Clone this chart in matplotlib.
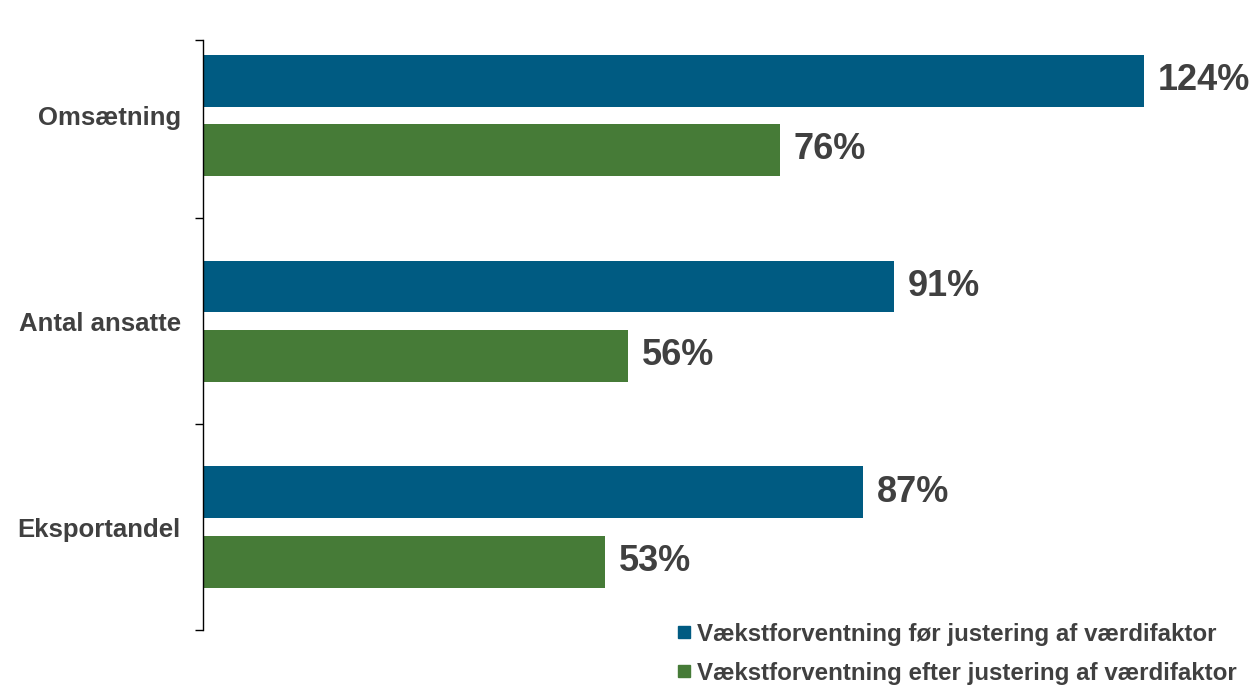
import matplotlib.pyplot as plt
from matplotlib.lines import Line2D
import numpy as np

plt.rcParams['font.family'] = ['Liberation Sans', 'DejaVu Sans']
plt.rcParams['font.weight'] = 'bold'

# data
categories = ['Omsætning', 'Antal ansatte', 'Eksportandel']
before = [124, 91, 87]
after = [76, 56, 53]
series_names = ['Vækstforventning før justering af værdifaktor',
                'Vækstforventning efter justering af værdifaktor']

blue = '#005b82'
green = '#467b37'
txt = '#404040'

fig = plt.figure(figsize=(12.55, 6.85), dpi=100)
ax = fig.add_axes([203 / 1255, 1 - 630 / 685, 1 - 203 / 1255, 590 / 685])

y = np.arange(len(categories))
h = 0.252
off = 0.168
b1 = ax.barh(y - off, before, height=h, color=blue)
b2 = ax.barh(y + off, after, height=h, color=green)

for bars, vals in ((b1, before), (b2, after)):
    for bar, v in zip(bars, vals):
        ax.annotate(f'{v}%', (bar.get_width(), bar.get_y() + bar.get_height() / 2),
                    xytext=(10, 0), textcoords='offset points',
                    va='center', ha='left', fontsize=26, fontweight='bold', color=txt)

ax.set_xlim(0, 138.6)
ax.set_ylim(2.5, -0.365)

# tick marks between groups, labels at group centres
ax.set_yticks([-0.365, 0.5, 1.5, 2.5])
ax.set_yticklabels([])
ax.set_yticks(y, minor=True)
ax.set_yticklabels(categories, minor=True, fontsize=18.5, fontweight='bold', color=txt)
ax.tick_params(axis='y', which='major', length=6, width=1, direction='out')
ax.tick_params(axis='y', which='minor', length=0, pad=16)
ax.set_xticks([])

for s in ['top', 'right', 'bottom']:
    ax.spines[s].set_visible(False)
ax.spines['left'].set_linewidth(1)

handles = [Line2D([], [], marker='s', linestyle='none', markersize=9, color=c)
           for c in (blue, green)]
leg = fig.legend(handles, series_names, loc='upper left',
                 bbox_to_anchor=(668 / 1255, 1 - 613 / 685), frameon=False,
                 fontsize=17.4, handlelength=0.55, handletextpad=0.25,
                 labelspacing=0.66, borderaxespad=0)
for t in leg.get_texts():
    t.set_color(txt)
    t.set_fontweight('bold')

fig.savefig('out.png', dpi=100)
